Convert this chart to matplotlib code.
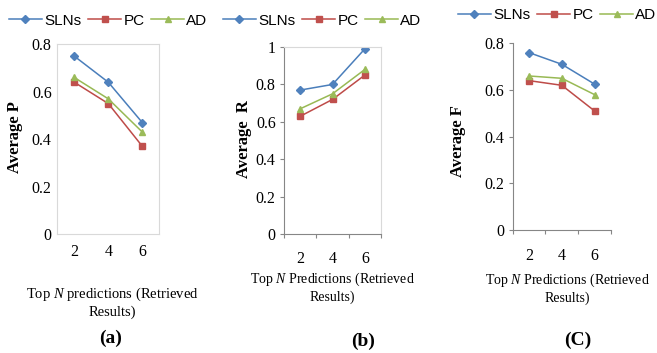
"""Average P / R / F of SLNs, PC and AD over top-N predictions."""

import matplotlib

matplotlib.use("Agg")
import matplotlib.pyplot as plt

plt.rcParams["font.family"] = ["Liberation Serif", "DejaVu Serif"]
plt.rcParams["mathtext.fontset"] = "custom"
plt.rcParams["mathtext.rm"] = "Liberation Serif"
plt.rcParams["mathtext.it"] = "Liberation Serif:italic"

W, H = 657, 353

TOP_N = ["2", "4", "6"]
SERIES = ["SLNs", "PC", "AD"]

P_SLNS = [0.75, 0.64, 0.47]
P_PC = [0.64, 0.55, 0.37]
P_AD = [0.66, 0.57, 0.43]

R_SLNS = [0.77, 0.80, 0.99]
R_PC = [0.63, 0.72, 0.85]
R_AD = [0.67, 0.75, 0.88]

F_SLNS = [0.76, 0.71, 0.625]
F_PC = [0.64, 0.62, 0.51]
F_AD = [0.66, 0.65, 0.58]

Y_TICKS_08 = [0, 0.2, 0.4, 0.6, 0.8]
Y_LABELS_08 = ["0", "0.2", "0.4", "0.6", "0.8"]
Y_TICKS_1 = [0, 0.2, 0.4, 0.6, 0.8, 1.0]
Y_LABELS_1 = ["0", "0.2", "0.4", "0.6", "0.8", "1"]

LINE_COLORS = ["#4A7EBB", "#BE4B48", "#98B954"]
MARKER_COLORS = ["#4F81BD", "#C0504D", "#9BBB59"]
MARKERS = ["D", "s", "^"]
MARKER_SIZES = [4.2, 4.0, 5.0]


def rect(x0, y0, x1, y1):
    # pixel box (top-left origin) -> figure fraction
    return [x0 / W, 1 - y1 / H, (x1 - x0) / W, (y1 - y0) / H]


def fpos(x, y):
    return x / W, 1 - y / H


def draw_panel(ax, series_values):
    x = range(len(TOP_N))
    for values, lc, mc, mk, ms, name in zip(
        series_values, LINE_COLORS, MARKER_COLORS, MARKERS, MARKER_SIZES, SERIES
    ):
        ax.plot(
            x, values, color=lc, lw=1.1, marker=mk, ms=ms,
            mfc=mc, mec=mc, label=name,
        )
    ax.set_xlim(-0.5, len(TOP_N) - 0.5)


def add_legend(ax, x, y):
    ax.legend(
        loc="center left",
        bbox_to_anchor=fpos(x, y),
        bbox_transform=ax.figure.transFigure,
        ncol=3,
        frameon=False,
        prop={"family": "Liberation Sans", "size": 11},
        handlelength=2.15,
        handletextpad=0.15,
        columnspacing=0.45,
        borderpad=0,
        borderaxespad=0,
    )


fig = plt.figure(figsize=(W / 100, H / 100), dpi=100)

# (a) boxed plot area, no tick marks
ax_a = fig.add_axes(rect(57.3, 44.3, 159.3, 234))
draw_panel(ax_a, [P_SLNS, P_PC, P_AD])
ax_a.set_ylim(0, 0.8)
ax_a.set_yticks(Y_TICKS_08, Y_LABELS_08, fontsize=11.5)
ax_a.set_xticks(range(3), TOP_N, fontsize=11.5)
ax_a.tick_params(length=0, pad=4)
ax_a.tick_params(axis="x", pad=7)
for spine in ax_a.spines.values():
    spine.set_color("#D9D9D9")
    spine.set_linewidth(0.8)
add_legend(ax_a, 9, 20.7)

# (b) and (c) with tick marks between categories
ax_b = fig.add_axes(rect(284, 47, 381, 234.3))
draw_panel(ax_b, [R_SLNS, R_PC, R_AD])
ax_b.set_ylim(0, 1)
ax_b.set_yticks(Y_TICKS_1, Y_LABELS_1, fontsize=11.5)
for spine in ("top", "right"):
    ax_b.spines[spine].set_color("#D9D9D9")
add_legend(ax_b, 223, 20.7)

ax_c = fig.add_axes(rect(512.7, 43.3, 611, 230))
draw_panel(ax_c, [F_SLNS, F_PC, F_AD])
ax_c.set_ylim(0, 0.8)
ax_c.set_yticks(Y_TICKS_08, Y_LABELS_08, fontsize=11.5)
for spine in ("top", "right"):
    ax_c.spines[spine].set_visible(False)
add_legend(ax_c, 458, 15)

for ax, pad in ((ax_b, 12), (ax_c, 13)):
    ax.set_xticks([-0.5, 0.5, 1.5, 2.5], [])
    ax.set_xticks(range(3), TOP_N, minor=True, fontsize=11.5)
    ax.tick_params(axis="x", which="major", length=3, width=0.8,
                   color="#868686", direction="out")
    ax.tick_params(axis="x", which="minor", length=0, pad=pad)
    ax.tick_params(axis="y", length=3, width=0.8, color="#868686", pad=3)
    for spine in ("left", "bottom"):
        ax.spines[spine].set_color("#868686")
        ax.spines[spine].set_linewidth(0.8)

# axis titles
ylabels = [("Average P", 15, 137), ("Average  R", 244, 139), ("Average F", 458, 141)]
for text, x, y in ylabels:
    fig.text(*fpos(x, y), text, rotation=90, ha="center", va="center",
             fontsize=12, fontweight="bold")

xlabels = [
    ("Top $N$ predictions (Retrieved\nResults)", 112, 302, 10.5),
    ("Top $N$ Predictions (Retrieved\nResults)", 332, 287, 10),
    ("Top $N$ Predictions (Retrieved\nResults)", 567, 288, 10),
]
for text, x, y, size in xlabels:
    fig.text(*fpos(x, y), text, ha="center", va="center", fontsize=size,
             linespacing=1.25)

captions = [("(a)", 111, 338), ("(b)", 363, 341), ("(C)", 578, 340)]
for text, x, y in captions:
    fig.text(*fpos(x, y), text, ha="center", va="center", fontsize=14,
             fontweight="bold")

fig.savefig("out.png", dpi=100)
